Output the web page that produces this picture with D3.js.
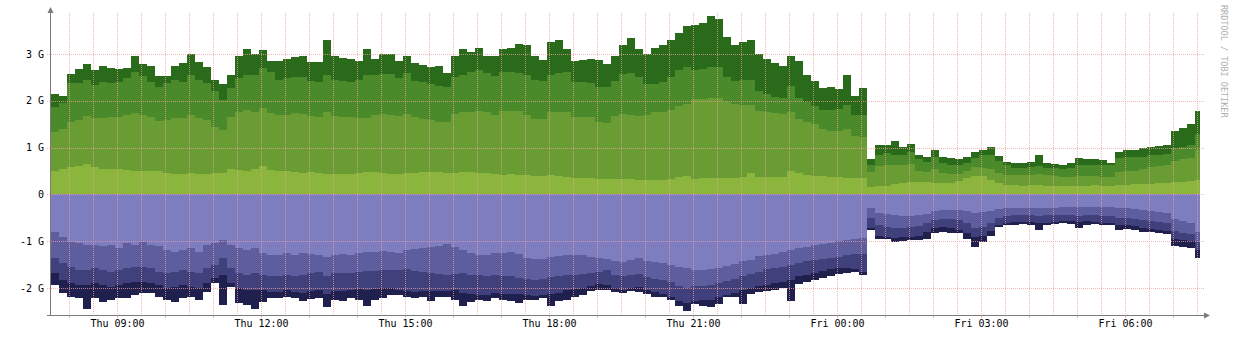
<!DOCTYPE html>
<html>
<head>
<meta charset="utf-8">
<script src="https://cdn.jsdelivr.net/npm/d3@7"></script>
<style>
html,body{margin:0;padding:0;background:#fff;}
svg{display:block;}
text{font-family:"DejaVu Sans Mono",monospace;}
</style>
</head>
<body>
<svg id="chart" width="1233" height="339"></svg>
<script>
// ---------- data (values in G, one sample every 10 minutes) ----------
const startTime = new Date(2024, 0, 4, 7, 37, 30);   // Thu 07:37:30
const endTime   = new Date(2024, 0, 5, 7, 33, 45);   // last sample ends
const stepMinutes = 10;

const inA = [0.5,0.55,0.58,0.6,0.65,0.58,0.55,0.55,0.55,0.52, 0.5,0.5,0.5,0.5,0.45,0.44,0.44,0.45,0.44,0.44, 0.45,0.45,0.55,0.52,0.5,0.55,0.6,0.52,0.5,0.5, 0.48,
 0.46,0.47,0.46,0.44,0.44,0.43,0.44,0.45,0.47,0.47,0.46,0.44,0.44,0.45,0.46,0.48,0.48,0.47,0.46,0.45,0.47,0.47,0.46,0.45,
 0.44,0.42,0.43,0.42,0.42,0.4,0.4,0.42,0.4,0.38,0.36,0.35,0.34,0.33,0.32,0.33,0.32,0.32,0.31,0.3,0.3,0.31,0.33,0.38,0.4,
 0.33,0.34,0.35,0.35,0.34,0.35,0.38,0.45,0.37,0.37,0.38,0.38,0.5,0.45,0.42,0.4,0.4,0.38,0.37,0.35,0.34,0.34,0.15,0.18,0.19,
 0.22,0.25,0.27,0.27,0.26,0.25,0.24,0.25,0.28,0.35,0.4,0.4,0.3,0.24,0.2,0.2,0.19,0.2,0.2,0.19,0.19,
 0.18,0.18,0.19,0.19,0.2,0.19,0.19,0.2,0.21,0.22,0.22,0.23,0.24,0.24,0.26,0.27,0.28,0.3];

const inB = [0.84,0.85,0.97,0.99,1.03,1.05,1.08,1.11,1.11,1.18, 1.23,1.2,1.16,1.06,1.14,1.19,1.19,1.25,1.19,1.15, 1.0,0.93,1.11,1.25,1.3,1.22,1.24,1.21,1.2,1.2, 1.25,
 1.26,1.21,1.2,1.31,1.24,1.23,1.22,1.19,1.17,1.23,1.26,1.26,1.24,1.27,1.19,1.14,1.1,1.08,1.09,1.27,1.28,1.3,1.32,1.3,
 1.26,1.36,1.35,1.36,1.28,1.22,1.22,1.33,1.35,1.37,1.3,1.31,1.32,1.22,1.2,1.35,1.4,1.38,1.37,1.4,1.45,1.45,1.47,1.5,1.54,
 1.71,1.7,1.7,1.7,1.63,1.58,1.52,1.45,1.41,1.38,1.35,1.34,1.25,1.15,1.13,1.1,1.0,0.98,0.99,1.05,0.91,0.88,0.33,0.42,0.43,
 0.4,0.37,0.37,0.23,0.22,0.3,0.21,0.19,0.16,0.15,0.18,0.16,0.25,0.21,0.22,0.22,0.22,0.22,0.23,0.22,0.21,
 0.2,0.2,0.21,0.21,0.19,0.19,0.19,0.28,0.29,0.28,0.33,0.35,0.36,0.38,0.46,0.48,0.5,0.65];

const inC = [0.53,0.55,0.83,0.79,0.77,0.71,0.77,0.72,0.74,0.78, 0.89,0.82,0.74,0.74,0.79,0.81,0.77,0.85,0.81,0.79, 0.75,0.64,0.61,0.71,0.75,0.78,0.86,0.89,0.74,0.78, 0.77,
 0.78,0.74,0.74,0.8,0.77,0.76,0.74,0.81,0.91,0.85,0.85,0.87,0.8,0.88,0.77,0.78,0.77,0.77,0.75,0.78,0.8,0.85,0.87,0.85,
 0.82,0.84,0.84,0.82,0.85,0.83,0.8,0.8,0.85,0.87,0.74,0.74,0.72,0.75,0.78,0.74,0.86,0.9,0.82,0.65,0.6,0.64,0.7,0.77,0.78,
 0.62,0.64,0.67,0.67,0.53,0.49,0.55,0.55,0.42,0.4,0.35,0.33,0.57,0.45,0.42,0.38,0.4,0.44,0.46,0.5,0.45,0.48,0.14,0.25,0.26,
 0.23,0.23,0.26,0.25,0.22,0.25,0.23,0.19,0.19,0.18,0.2,0.29,0.3,0.27,0.2,0.15,0.16,0.16,0.17,0.16,0.17,
 0.17,0.19,0.22,0.23,0.24,0.24,0.24,0.3,0.3,0.3,0.25,0.27,0.25,0.24,0.28,0.27,0.27,0.33];

const inD = [0.28,0.15,0.2,0.3,0.33,0.32,0.34,0.32,0.28,0.22, 0.33,0.26,0.35,0.22,0.15,0.31,0.4,0.45,0.39,0.34, 0.25,0.33,0.28,0.47,0.55,0.45,0.38,0.22,0.41,0.42, 0.44,
 0.45,0.41,0.43,0.75,0.5,0.5,0.5,0.4,0.55,0.35,0.43,0.43,0.37,0.35,0.38,0.37,0.37,0.43,0.3,0.45,0.55,0.43,0.47,0.35,
 0.43,0.48,0.5,0.62,0.65,0.5,0.45,0.7,0.7,0.48,0.45,0.48,0.52,0.57,0.48,0.53,0.62,0.75,0.6,0.65,0.78,0.8,0.8,0.8,0.88,
 0.96,0.97,1.08,1.03,0.87,0.78,0.8,0.85,0.8,0.75,0.72,0.7,0.63,0.8,0.58,0.54,0.48,0.5,0.43,0.65,0.4,0.57,0.13,0.2,0.17,
 0.3,0.17,0.18,0.1,0.1,0.15,0.12,0.15,0.12,0.12,0.12,0.1,0.17,0.1,0.08,0.1,0.11,0.12,0.25,0.1,0.09,
 0.07,0.1,0.16,0.13,0.13,0.12,0.05,0.12,0.15,0.15,0.2,0.17,0.18,0.19,0.35,0.4,0.45,0.5];

const outA = [-0.8,-0.92,-1.01,-1.04,-1.08,-1.08,-1.11,-1.08,-1.15,-1.04, -1.08,-1.01,-1.08,-1.11,-1.18,-1.22,-1.18,-1.15,-1.22,-1.08, -1.04,-0.97,-1.08,-1.15,-1.18,-1.15,-1.26,-1.29,-1.29,-1.26, -1.29,
 -1.26,-1.28,-1.3,-1.33,-1.3,-1.28,-1.3,-1.25,-1.22,-1.22,-1.2,-1.22,-1.25,-1.18,-1.17,-1.15,-1.12,-1.1,-1.06,-1.12,-1.18,-1.26,-1.3,-1.3,
 -1.26,-1.25,-1.24,-1.28,-1.35,-1.38,-1.38,-1.33,-1.32,-1.3,-1.3,-1.3,-1.33,-1.35,-1.38,-1.42,-1.44,-1.4,-1.36,-1.42,-1.44,-1.46,-1.5,-1.55,-1.58,
 -1.62,-1.62,-1.6,-1.58,-1.52,-1.48,-1.42,-1.4,-1.32,-1.3,-1.28,-1.22,-1.18,-1.15,-1.13,-1.08,-1.06,-1.04,-1.0,-0.98,-0.96,-0.94,-0.3,-0.4,-0.42,
 -0.45,-0.46,-0.47,-0.45,-0.42,-0.36,-0.34,-0.33,-0.33,-0.35,-0.4,-0.38,-0.35,-0.32,-0.3,-0.29,-0.29,-0.3,-0.3,-0.29,-0.28,
 -0.26,-0.26,-0.27,-0.26,-0.26,-0.27,-0.27,-0.3,-0.3,-0.31,-0.33,-0.36,-0.38,-0.4,-0.52,-0.56,-0.6,-0.8];

const outB = [-0.56,-0.55,-0.53,-0.57,-0.53,-0.5,-0.5,-0.57,-0.46,-0.54, -0.46,-0.53,-0.5,-0.54,-0.5,-0.43,-0.43,-0.5,-0.46,-0.5, -0.47,-0.39,-0.5,-0.53,-0.54,-0.53,-0.46,-0.46,-0.46,-0.46, -0.46,
 -0.46,-0.4,-0.35,-0.42,-0.38,-0.4,-0.38,-0.41,-0.42,-0.41,-0.42,-0.39,-0.37,-0.42,-0.46,-0.5,-0.56,-0.6,-0.66,-0.58,-0.5,-0.46,-0.42,-0.44,
 -0.46,-0.49,-0.51,-0.5,-0.45,-0.44,-0.42,-0.43,-0.43,-0.42,-0.42,-0.4,-0.34,-0.3,-0.24,-0.3,-0.31,-0.32,-0.34,-0.34,-0.36,-0.36,-0.38,-0.4,-0.42,
 -0.33,-0.33,-0.33,-0.32,-0.33,-0.32,-0.33,-0.3,-0.33,-0.3,-0.3,-0.33,-0.32,-0.32,-0.3,-0.32,-0.32,-0.31,-0.33,-0.32,-0.32,-0.33,-0.2,-0.25,-0.28,
 -0.27,-0.26,-0.23,-0.23,-0.18,-0.19,-0.18,-0.19,-0.22,-0.27,-0.32,-0.32,-0.25,-0.18,-0.16,-0.16,-0.15,-0.15,-0.17,-0.16,-0.16,
 -0.18,-0.18,-0.19,-0.19,-0.19,-0.19,-0.19,-0.2,-0.2,-0.21,-0.22,-0.2,-0.2,-0.2,-0.26,-0.26,-0.25,-0.22];

const outC = [-0.32,-0.36,-0.36,-0.32,-0.32,-0.32,-0.32,-0.32,-0.32,-0.32, -0.32,-0.32,-0.32,-0.28,-0.32,-0.32,-0.32,-0.32,-0.32,-0.32, -0.28,-0.36,-0.32,-0.32,-0.32,-0.36,-0.32,-0.33,-0.33,-0.32, -0.33,
 -0.38,-0.38,-0.39,-0.37,-0.38,-0.38,-0.36,-0.36,-0.4,-0.39,-0.38,-0.39,-0.42,-0.46,-0.45,-0.41,-0.38,-0.36,-0.34,-0.35,-0.42,-0.4,-0.43,-0.41,
 -0.38,-0.38,-0.37,-0.34,-0.35,-0.35,-0.35,-0.36,-0.35,-0.33,-0.31,-0.3,-0.28,-0.27,-0.31,-0.28,-0.29,-0.28,-0.28,-0.29,-0.28,-0.3,-0.32,-0.33,-0.32,
 -0.33,-0.3,-0.32,-0.3,-0.3,-0.3,-0.29,-0.3,-0.31,-0.33,-0.32,-0.31,-0.32,-0.28,-0.29,-0.28,-0.26,-0.25,-0.25,-0.27,-0.32,-0.38,-0.22,-0.23,-0.2,
 -0.21,-0.2,-0.2,-0.2,-0.2,-0.17,-0.18,-0.2,-0.2,-0.2,-0.2,-0.18,-0.18,-0.15,-0.14,-0.13,-0.14,-0.13,-0.15,-0.15,-0.14,
 -0.12,-0.12,-0.12,-0.12,-0.13,-0.14,-0.14,-0.16,-0.16,-0.16,-0.17,-0.18,-0.18,-0.18,-0.17,-0.16,-0.15,-0.16];

const outD = [-0.25,-0.28,-0.28,-0.29,-0.52,-0.32,-0.36,-0.28,-0.29,-0.32, -0.29,-0.25,-0.21,-0.25,-0.25,-0.32,-0.29,-0.21,-0.25,-0.18, -0.11,-0.64,-0.08,-0.32,-0.32,-0.41,-0.25,-0.14,-0.14,-0.14, -0.14,
 -0.18,-0.18,-0.18,-0.28,-0.19,-0.22,-0.18,-0.23,-0.34,-0.23,-0.22,-0.15,-0.11,-0.14,-0.14,-0.14,-0.22,-0.14,-0.14,-0.2,-0.28,-0.18,-0.1,-0.13,
 -0.12,-0.13,-0.15,-0.2,-0.1,-0.08,-0.07,-0.26,-0.18,-0.2,-0.15,-0.15,-0.12,-0.12,-0.12,-0.08,-0.06,-0.06,-0.1,-0.07,-0.1,-0.08,-0.05,-0.1,-0.16,
 -0.07,-0.13,-0.15,-0.15,-0.05,-0.1,-0.31,-0.12,-0.12,-0.13,-0.14,-0.14,-0.45,-0.17,-0.16,-0.14,-0.14,-0.14,-0.12,-0.11,-0.05,-0.07,-0.05,-0.07,-0.06,
 -0.09,-0.08,-0.08,-0.09,-0.15,-0.1,-0.1,-0.1,-0.08,-0.13,-0.2,-0.14,-0.1,-0.05,-0.06,-0.07,-0.06,-0.07,-0.13,-0.05,-0.06,
 -0.06,-0.07,-0.14,-0.08,-0.06,-0.06,-0.06,-0.09,-0.08,-0.08,-0.08,-0.06,-0.06,-0.07,-0.15,-0.14,-0.15,-0.18];

const seriesKeys   = ["inA","inB","inC","inD","outA","outB","outC","outD"];
const seriesColors = ["#8cb53d","#6a9c34","#4a8a2b","#2a6b1b","#7d7dc0","#5e5e9e","#40407c","#20204e"];
const yTicks = [-2, -1, 0, 1, 2, 3];
const xTickTimes = [
  new Date(2024,0,4,9), new Date(2024,0,4,12), new Date(2024,0,4,15), new Date(2024,0,4,18),
  new Date(2024,0,4,21), new Date(2024,0,5,0), new Date(2024,0,5,3), new Date(2024,0,5,6)
];
const watermark = "RRDTOOL / TOBI OETIKER";

// ---------- build table ----------
const series = {inA, inB, inC, inD, outA, outB, outC, outD};
const rows = inA.map((_, i) => {
  const r = {time: new Date(startTime.getTime() + i * stepMinutes * 60000)};
  seriesKeys.forEach(k => r[k] = series[k][i]);
  return r;
});
rows.push(Object.assign({}, rows[rows.length - 1], {time: endTime}));

// ---------- scales ----------
const svg = d3.select("#chart");
const plotLeft = 51, plotRight = 1203, plotTop = 13, plotBottom = 315;
const x = d3.scaleTime()
  .domain([startTime, new Date(startTime.getTime() + 24 * 3600 * 1000)])
  .range([plotLeft, plotRight]);
const y = d3.scaleLinear().domain([-2.575, 3.874]).range([plotBottom, plotTop]);

// ---------- stacked areas ----------
const stack = d3.stack().keys(seriesKeys).offset(d3.stackOffsetDiverging);
const layers = stack(rows);
const area = d3.area()
  .x(d => x(d.data.time))
  .y0(d => y(d[0]))
  .y1(d => y(d[1]))
  .curve(d3.curveStepAfter);

svg.append("g").selectAll("path")
  .data(layers)
  .join("path")
  .attr("d", area)
  .attr("fill", (d, i) => seriesColors[i])
  .attr("shape-rendering", "crispEdges");

// ---------- grid (drawn over the data) ----------
const gridColor = "rgba(240,160,160,0.75)";
const grid = svg.append("g");
x.ticks(d3.timeMinute.every(30)).forEach(t => {
  const px = Math.round(x(t)) + 0.5;
  grid.append("line").attr("x1", px).attr("x2", px).attr("y1", plotTop).attr("y2", plotBottom)
    .attr("stroke", gridColor).attr("stroke-dasharray", "1,1");
});
x.ticks(d3.timeHour.every(1)).forEach(t => {
  const px = Math.round(x(t)) + 0.5;
  grid.append("line").attr("x1", px).attr("x2", px).attr("y1", plotBottom + 1).attr("y2", plotBottom + 3)
    .attr("stroke", gridColor);
});
yTicks.forEach(v => {
  const py = Math.round(y(v)) + 0.5;
  grid.append("line").attr("x1", plotLeft - 4).attr("x2", plotRight + 1).attr("y1", py).attr("y2", py)
    .attr("stroke", gridColor).attr("stroke-dasharray", "1,1");
});

// ---------- axes ----------
const axisColor = "#7a7a7a";
const xAxis = d3.axisBottom(x).tickValues(xTickTimes)
  .tickFormat(d3.timeFormat("%a %H:%M")).tickSize(0).tickPadding(5);
const gx = svg.append("g").attr("transform", `translate(0,${plotBottom})`).call(xAxis);
gx.select(".domain").remove();
gx.selectAll("text").attr("font-family", '"DejaVu Sans Mono", monospace')
  .attr("font-size", 10).attr("fill", "#000");

const yAxis = d3.axisLeft(y).tickValues(yTicks)
  .tickFormat(v => v === 0 ? "0" : v + " G").tickSize(0).tickPadding(7);
const gy = svg.append("g").attr("transform", `translate(${plotLeft},0)`).call(yAxis);
gy.select(".domain").remove();
gy.selectAll("text").attr("font-family", '"DejaVu Sans Mono", monospace')
  .attr("font-size", 10).attr("fill", "#000");

// axis lines with arrows
svg.append("line").attr("x1", plotLeft - 0.5).attr("x2", plotLeft - 0.5).attr("y1", plotBottom + 1).attr("y2", 9)
  .attr("stroke", axisColor);
svg.append("path").attr("d", `M${plotLeft - 3.5},13 L${plotLeft + 2.5},13 L${plotLeft - 0.5},7 Z`).attr("fill", axisColor);
svg.append("line").attr("x1", plotLeft - 4).attr("x2", plotRight + 3).attr("y1", plotBottom + 0.5).attr("y2", plotBottom + 0.5)
  .attr("stroke", axisColor);
svg.append("path").attr("d", `M${plotRight + 1},${plotBottom - 2.5} L${plotRight + 1},${plotBottom + 3.5} L${plotRight + 7},${plotBottom + 0.5} Z`)
  .attr("fill", axisColor);

// watermark
svg.append("text")
  .attr("transform", "translate(1221,5) rotate(90)")
  .attr("font-family", '"DejaVu Sans Mono", monospace')
  .attr("font-size", 8.5)
  .attr("fill", "#b0b0b0")
  .text(watermark);
</script>
</body>
</html>
